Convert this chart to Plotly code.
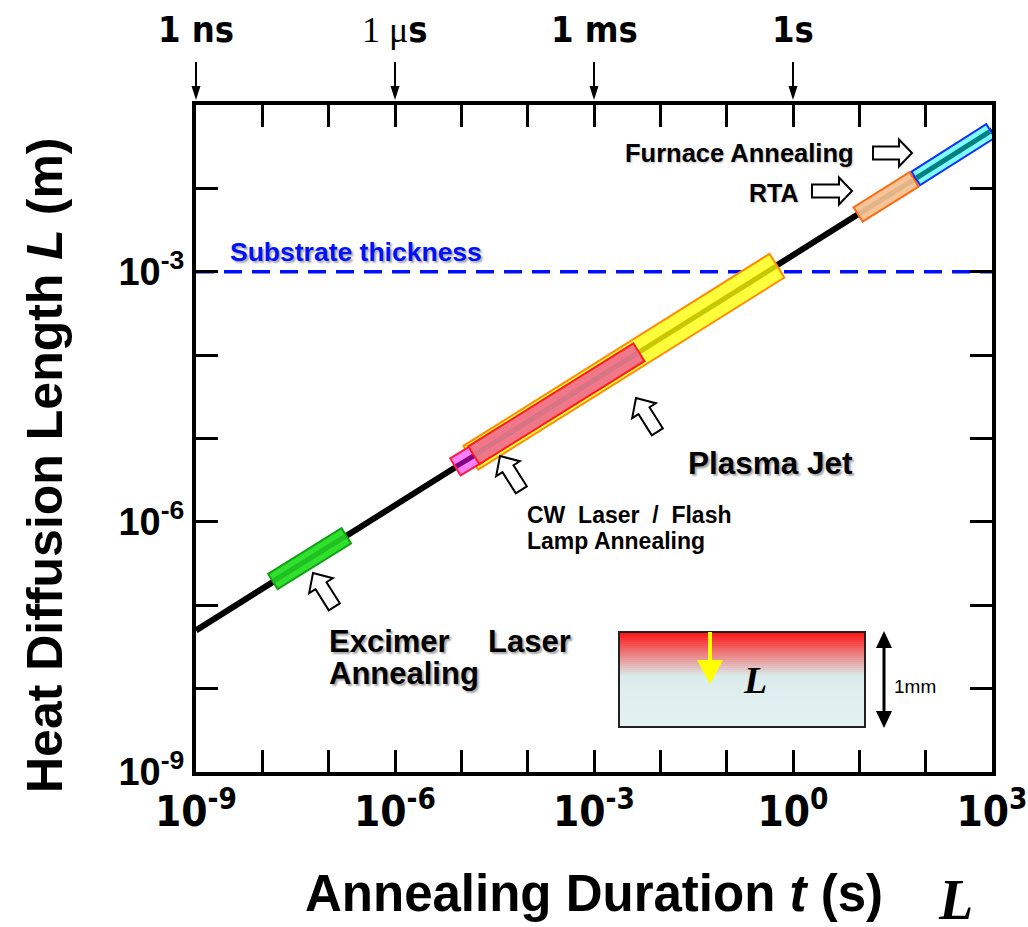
import plotly.graph_objects as go
import math

# ---------------- data ----------------
line_t = [1e-9, 1e3]            # annealing duration (s)
line_L = [5.0e-8, 5.0e-2]       # heat diffusion length (m)

substrate_L = 1e-3              # substrate thickness (m)

band_names = ["Plasma Jet", "CW Laser", "CW Laser / Flash Lamp", "Excimer Laser", "RTA", "Furnace"]
band_t0 = [1.35e-5, 7.9e-6, 1.5e-5, 1.4e-8, 9.3, 69.0]
band_t1 = [0.59, 1.8e-5, 4.9e-3, 1.9e-7, 69.0, 980.0]
band_L0 = [5.8e-6, 4.5e-6, 6.2e-6, 1.9e-7, 4.8e-3, 1.3e-2]
band_L1 = [1.2e-3, 6.7e-6, 1.1e-4, 6.9e-7, 1.3e-2, 4.95e-2]
band_border = ["#ff8c00", "#ff1a3c", "#ff1a1a", "#13a013", "#ff6a10", "#1030ff"]
band_fill = ["#ffff3c", "#ff80ff", "#f07888", "#2fe02f", "#f6c496", "#80ffff"]
band_stripe = ["#c8c800", "#800080", "#d87484", "#20c020", "#e2b488", "#008080"]
band_width = [30, 22, 23, 20, 19, 18]

xtick_vals = [1e-9, 1e-6, 1e-3, 1e0, 1e3]
xtick_text = ["10<sup>-9</sup>", "10<sup>-6</sup>", "10<sup>-3</sup>", "10<sup>0</sup>", "10<sup>3</sup>"]
xminor_vals = [1e-8, 1e-7, 1e-5, 1e-4, 1e-2, 1e-1, 1e1, 1e2]
ytick_vals = [1e-9, 1e-6, 1e-3]
ytick_text = ["10<sup>-9</sup>", "10<sup>-6</sup>", "10<sup>-3</sup>"]
yminor_vals = [1e-8, 1e-7, 1e-5, 1e-4, 1e-2]

top_labels = ["1 ns", "<span style='font-family:Liberation Serif;font-weight:normal'>1 \u03bc</span>s", "1 ms", "1s"]
top_label_t = [-9, -6, -3, 0]   # log10 of time

# ---------------- geometry helpers (layout only) ----------------
W, H = 1028, 927
L_M, R_M, T_M, B_M = 196, 36, 105, 155
PW, PH = W - L_M - R_M, H - T_M - B_M
XR = (-9, 3)
YR = (-9, -1)
PX_DEC_X = PW / (XR[1] - XR[0])
PX_DEC_Y = PH / (YR[1] - YR[0])


def px(x, y):
    return (x - L_M) / PW, (H - B_M - y) / PH


def shrink(t0, t1, l0, l1, d):
    """pull the end points of a segment in by d pixels (log-log axes)"""
    a = (math.log10(t0), math.log10(l0))
    b = (math.log10(t1), math.log10(l1))
    dx = (b[0] - a[0]) * PX_DEC_X
    dy = (b[1] - a[1]) * PX_DEC_Y
    n = math.hypot(dx, dy)
    fx = d * dx / n / PX_DEC_X
    fy = d * dy / n / PX_DEC_Y
    return ([10 ** (a[0] + fx), 10 ** (b[0] - fx)], [10 ** (a[1] + fy), 10 ** (b[1] - fy)])


def poly(pts, fill, lw=0, lc="black"):
    path = ""
    for i, (x, y) in enumerate(pts):
        p = px(x, y)
        path += ("M" if i == 0 else "L") + f"{p[0]:.5f},{p[1]:.5f} "
    path += "Z"
    return dict(type="path", xref="paper", yref="paper", path=path,
                fillcolor=fill, line=dict(color=lc, width=lw), layer="above")


def block_arrow(tail, tip, sw=13, hw=28, hl=15):
    dx, dy = tip[0] - tail[0], tip[1] - tail[1]
    n = math.hypot(dx, dy)
    ux, uy = dx / n, dy / n
    nx, ny = -uy, ux
    neck = (tip[0] - ux * hl, tip[1] - uy * hl)
    pts = [
        (tail[0] + nx * sw / 2, tail[1] + ny * sw / 2),
        (neck[0] + nx * sw / 2, neck[1] + ny * sw / 2),
        (neck[0] + nx * hw / 2, neck[1] + ny * hw / 2),
        tip,
        (neck[0] - nx * hw / 2, neck[1] - ny * hw / 2),
        (neck[0] - nx * sw / 2, neck[1] - ny * sw / 2),
        (tail[0] - nx * sw / 2, tail[1] - ny * sw / 2),
    ]
    return poly(pts, "white", 2)


def vline(x, y0, y1, color, w):
    a, b = px(x, y0), px(x, y1)
    return dict(type="line", xref="paper", yref="paper", x0=a[0], y0=a[1], x1=b[0], y1=b[1],
                line=dict(color=color, width=w), layer="above")


# ---------------- figure ----------------
fig = go.Figure()

# substrate thickness (dashed)
fig.add_trace(go.Scatter(x=[line_t[0], line_t[1]], y=[substrate_L, substrate_L], mode="lines",
                         line=dict(color="#0010ff", width=3.5, dash="18px,10px"), hoverinfo="skip"))

# heat diffusion line
fig.add_trace(go.Scatter(x=line_t, y=line_L, mode="lines",
                         line=dict(color="black", width=6), hoverinfo="skip"))

# process bands
for i in range(len(band_names)):
    xs, ys = [band_t0[i], band_t1[i]], [band_L0[i], band_L1[i]]
    fig.add_trace(go.Scatter(x=xs, y=ys, mode="lines",
                             line=dict(color=band_border[i], width=band_width[i]), hoverinfo="skip"))
    fx, fy = shrink(band_t0[i], band_t1[i], band_L0[i], band_L1[i], 2)
    fig.add_trace(go.Scatter(x=fx, y=fy, mode="lines",
                             line=dict(color=band_fill[i], width=band_width[i] - 4), hoverinfo="skip"))
    fig.add_trace(go.Scatter(x=fx, y=fy, mode="lines",
                             line=dict(color=band_stripe[i], width=5), hoverinfo="skip"))

shapes = []
annos = []

# hollow arrows
shapes.append(block_arrow((873, 153), (912, 153), sw=13, hw=27, hl=13))
shapes.append(block_arrow((812, 191), (852, 191), sw=13, hw=27, hl=13))
for tip in [(636, 398), (500, 456), (313, 573)]:
    tail = (tip[0] + 21.3, tip[1] + 33.8)
    shapes.append(block_arrow(tail, tip))

# inset gradient box
top, mid, bot = 632, 676, 727
x0, x1 = px(619, 0)[0], px(865, 0)[0]
nstrip = 22
c_top, c_mid, c_bot = (255, 18, 18), (220, 236, 236), (229, 242, 242)
for k in range(nstrip):
    ya = top + (mid - top) * k / nstrip
    yb = top + (mid - top) * (k + 1) / nstrip + 0.6
    f = (k + 0.5) / nstrip
    c = tuple(int(c_top[j] + (c_mid[j] - c_top[j]) * f) for j in range(3))
    shapes.append(dict(type="rect", xref="paper", yref="paper", x0=x0, x1=x1,
                       y0=px(0, yb)[1], y1=px(0, ya)[1], fillcolor=f"rgb{c}",
                       line=dict(width=0), layer="above"))
nstrip2 = 10
for k in range(nstrip2):
    ya = mid + (bot - mid) * k / nstrip2
    yb = mid + (bot - mid) * (k + 1) / nstrip2 + 0.6
    f = (k + 0.5) / nstrip2
    c = tuple(int(c_mid[j] + (c_bot[j] - c_mid[j]) * f) for j in range(3))
    shapes.append(dict(type="rect", xref="paper", yref="paper", x0=x0, x1=x1,
                       y0=px(0, min(yb, bot))[1], y1=px(0, ya)[1], fillcolor=f"rgb{c}",
                       line=dict(width=0), layer="above"))
shapes.append(dict(type="rect", xref="paper", yref="paper", x0=x0, x1=x1,
                   y0=px(0, bot)[1], y1=px(0, top)[1], fillcolor="rgba(0,0,0,0)",
                   line=dict(color="#222", width=2), layer="above"))
# yellow arrow inside inset
shapes.append(vline(710, 632, 662, "#ffff00", 4))
shapes.append(poly([(697, 660), (723, 660), (710, 684)], "#ffff00"))

# double arrow 1mm
shapes.append(vline(884, 645, 714, "black", 3))
shapes.append(poly([(884, 631), (876, 648), (892, 648)], "black"))
shapes.append(poly([(884, 728), (876, 711), (892, 711)], "black"))
p = px(892, 686)
annos.append(dict(xref="paper", yref="paper", x=p[0], y=p[1], text="1mm", showarrow=False,
                  xanchor="left", yanchor="middle", font=dict(family="Liberation Sans", size=19, color="black")))
p = px(755, 680)
annos.append(dict(xref="paper", yref="paper", x=p[0], y=p[1], text="<b><i>L</i></b>", showarrow=False,
                  xanchor="center", yanchor="middle", font=dict(family="Liberation Serif", size=38, color="black")))

# top time labels with arrows
for lt, lab in zip(top_label_t, top_labels):
    xpix = L_M + (lt - XR[0]) * PX_DEC_X
    shapes.append(vline(xpix, 62, 88, "black", 2))
    shapes.append(poly([(xpix - 4.5, 86), (xpix + 4.5, 86), (xpix, 100)], "black"))
    annos.append(dict(xref="x", yref="paper", x=lt, y=px(0, 30)[1], text=lab, showarrow=False,
                      xanchor="center", yanchor="middle",
                      font=dict(family="Liberation Sans Narrow, DejaVu Sans Condensed, Liberation Sans",
                                size=36, color="black", weight="bold")))

shadow = "2px 2px 2px rgba(0,0,0,0.35)"
bold = dict(family="Liberation Sans, Arial, sans-serif", color="black", weight="bold")


def text(x, y, s, size, anchor="left", color="black", shad="none"):
    p = px(x, y)
    f = dict(bold); f.update(size=size, color=color, shadow=shad)
    annos.append(dict(xref="paper", yref="paper", x=p[0], y=p[1], text=s, showarrow=False,
                      xanchor=anchor, yanchor="middle", font=f))


text(228, 252, "Substrate thickness", 26.5, color="#0010ff", shad=shadow)
text(856, 153, "Furnace Annealing", 25.5, anchor="right", shad="1px 1px 2px rgba(0,0,0,0.25)")
text(801, 193, "RTA", 25, anchor="right", shad="1px 1px 2px rgba(0,0,0,0.25)")
text(686, 463, "Plasma Jet", 31.5, shad=shadow)
text(525, 515, "CW  Laser  /  Flash", 23)
text(525, 541, "Lamp Annealing", 23)
text(327, 641, "Excimer", 31, shad=shadow)
text(486, 641, "Laser", 31, shad=shadow)
text(327, 673, "Annealing", 31, shad=shadow)

# axis titles
p = px(45, 465)
annos.append(dict(xref="paper", yref="paper", x=p[0], y=p[1], text="Heat Diffusion Length <i>L</i> (m)",
                  textangle=-90, showarrow=False, xanchor="center", yanchor="middle",
                  font=dict(family="Liberation Sans", size=50, color="black", weight="bold")))
p = px(594, 893)
annos.append(dict(xref="paper", yref="paper", x=p[0], y=p[1], text="Annealing Duration <i>t</i> (s)",
                  showarrow=False, xanchor="center", yanchor="middle",
                  font=dict(family="Liberation Sans Narrow, Liberation Sans", size=51, color="black", weight="bold")))
# stray glyph at bottom right
p = px(955, 900)
annos.append(dict(xref="paper", yref="paper", x=p[0], y=p[1], text="<b><i>L</i></b>", showarrow=False,
                  xanchor="center", yanchor="middle",
                  font=dict(family="Liberation Serif", size=56, color="black")))

fig.update_layout(
    width=W, height=H,
    margin=dict(l=L_M, r=R_M, t=T_M, b=B_M, autoexpand=False),
    plot_bgcolor="white", paper_bgcolor="white",
    showlegend=False, hovermode=False,
    shapes=shapes, annotations=annos,
    xaxis=dict(type="log", range=list(XR), showgrid=False, zeroline=False, automargin=False,
               showline=True, linecolor="black", linewidth=4, mirror="ticks",
               ticks="inside", ticklen=22, tickwidth=3, tickcolor="black",
               tickvals=xtick_vals, ticktext=xtick_text,
               minor=dict(tickvals=xminor_vals, ticks="inside", ticklen=22, tickwidth=3,
                          tickcolor="black", showgrid=False),
               tickfont=dict(family="Liberation Sans Narrow, DejaVu Sans Condensed, Liberation Sans",
                             size=42, color="black", weight="bold")),
    yaxis=dict(type="log", range=list(YR), showgrid=False, zeroline=False, automargin=False,
               showline=True, linecolor="black", linewidth=4, mirror="ticks",
               ticks="inside", ticklen=22, tickwidth=3, tickcolor="black",
               tickvals=ytick_vals, ticktext=ytick_text,
               minor=dict(tickvals=yminor_vals, ticks="inside", ticklen=22, tickwidth=3,
                          tickcolor="black", showgrid=False),
               tickfont=dict(family="Liberation Sans", size=38, color="black", weight="bold")),
)

fig.write_html("out.html")
